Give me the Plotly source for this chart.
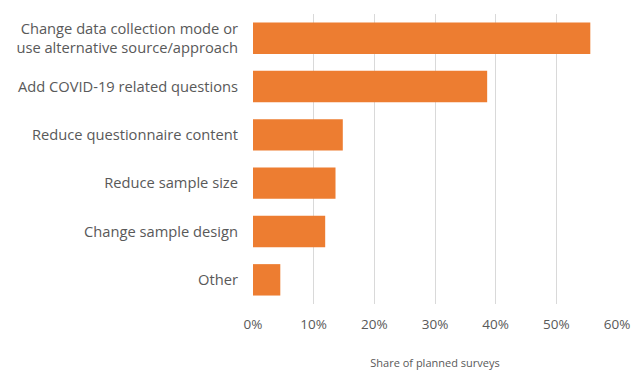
import plotly.graph_objects as go

categories = [
    "Change data collection mode or<br>use alternative source/approach",
    "Add COVID-19 related questions",
    "Reduce questionnaire content",
    "Reduce sample size",
    "Change sample design",
    "Other",
]
values = [0.556, 0.386, 0.148, 0.136, 0.119, 0.045]
tick_vals = [0, 0.1, 0.2, 0.3, 0.4, 0.5, 0.6]
tick_text = ["0%", "10%", "20%", "30%", "40%", "50%", "60%"]

fig = go.Figure(go.Bar(
    x=values, y=categories, orientation="h",
    marker=dict(color="#ED7D31", line=dict(width=0)),
))

fig.update_layout(
    width=631, height=370,
    margin=dict(l=253, r=14, t=14, b=66, autoexpand=False),
    paper_bgcolor="white", plot_bgcolor="white",
    bargap=0.35,
    showlegend=False,
    font=dict(family="Open Sans, Lato, sans-serif", color="#595959", size=14),
    xaxis=dict(
        range=[0, 0.6], tickvals=tick_vals, ticktext=tick_text,
        showgrid=True, gridcolor="#D9D9D9", gridwidth=1,
        zeroline=False, showline=False, automargin=False,
        tickfont=dict(size=13.5, color="#595959"),
        ticks="", ticklabelstandoff=10,
        title=dict(text="Share of planned surveys", font=dict(size=11, color="#595959"), standoff=27),
    ),
    yaxis=dict(
        autorange="reversed", automargin=False,
        showgrid=False, zeroline=False, showline=False,
        tickfont=dict(size=14.7, color="#595959"),
        ticks="", ticklabelstandoff=14,
    ),
)

fig.write_html("out.html")
